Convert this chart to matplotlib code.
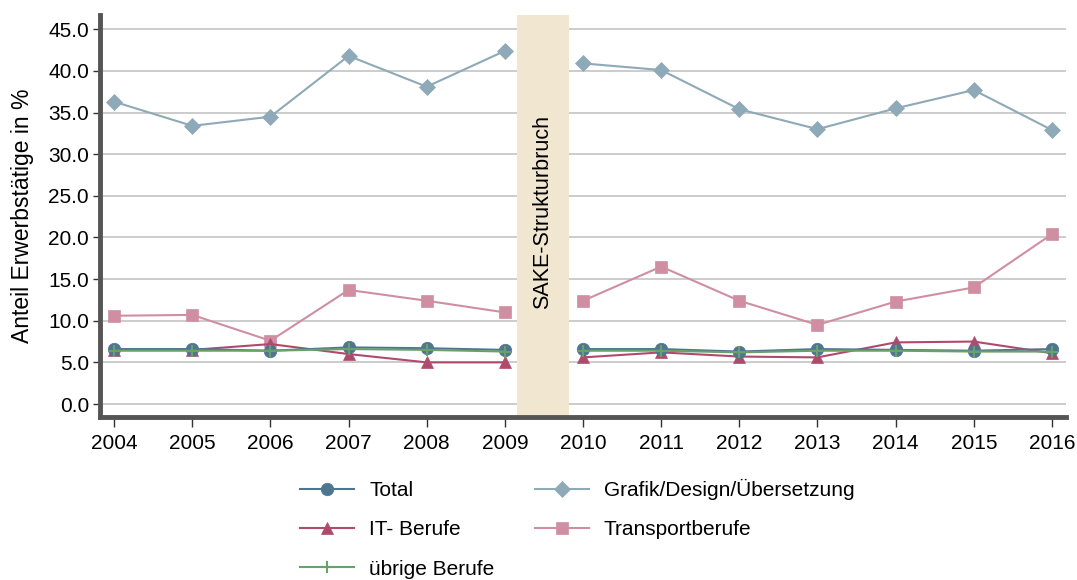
import numpy as np
import matplotlib.pyplot as plt

plt.rcParams['font.family'] = ['Liberation Sans', 'DejaVu Sans']

years = np.arange(2004, 2017)
total = [6.6, 6.6, 6.4, 6.8, 6.7, 6.5, 6.6, 6.6, 6.3, 6.6, 6.5, 6.4, 6.6]
grafik = [36.3, 33.4, 34.5, 41.8, 38.1, 42.4, 40.9, 40.1, 35.4, 33.0, 35.5, 37.7, 32.9]
it = [6.5, 6.5, 7.2, 6.0, 5.0, 5.0, 5.6, 6.2, 5.7, 5.6, 7.4, 7.5, 6.1]
transport = [10.6, 10.7, 7.6, 13.7, 12.4, 11.0, 12.4, 16.5, 12.4, 9.5, 12.3, 14.0, 20.4]
uebrige = [6.4, 6.4, 6.4, 6.6, 6.5, 6.3, 6.4, 6.4, 6.2, 6.4, 6.4, 6.3, 6.3]

# series: label, values, colour, marker, marker size, z-order
series = [
    ('Grafik/Design/Übersetzung', grafik, '#8ea9b7', 'D', 8, 2),
    ('Transportberufe', transport, '#d08ea3', 's', 8, 2),
    ('IT- Berufe', it, '#b04a6c', '^', 9, 3),
    ('Total', total, '#4f7690', 'o', 9, 4),
    ('übrige Berufe', uebrige, '#6aa06a', '+', 9, 5),
]

fig = plt.figure(figsize=(10.77, 5.80), dpi=100)
ax = fig.add_axes([0.0929, 0.281, 0.8969, 0.693])

# break in the survey series between 2009 and 2010
ax.axvspan(2009.15, 2009.82, color='#f1e6d0', zorder=1, lw=0)
ax.text(2009.485, 23.0, 'SAKE-Strukturbruch', rotation=90, ha='center',
        va='center', fontsize=15.5, zorder=6)

handles = {}
for label, vals, col, mk, ms, z in series:
    vals = np.array(vals)
    for part in (years <= 2009, years >= 2010):
        line, = ax.plot(years[part], vals[part], color=col, marker=mk,
                        markersize=ms, lw=1.5, zorder=z,
                        markeredgewidth=1.5 if mk == '+' else 0.5,
                        markeredgecolor=col)
    handles[label] = line

ax.set_xlim(2003.82, 2016.18)
ax.set_ylim(-1.56, 46.7)
ax.set_xticks(years)
ax.set_yticks(np.arange(0, 46, 5))
ax.set_yticklabels([f'{v:.1f}' for v in np.arange(0, 46, 5)])
ax.grid(axis='y', color='#c8c8c8', lw=1.3)
ax.set_axisbelow(True)
ax.tick_params(axis='both', labelsize=15, direction='out', color='#333333')
ax.tick_params(axis='x', length=7, width=1, pad=5)
ax.tick_params(axis='y', length=5, width=1, pad=3)
for s in ['top', 'right']:
    ax.spines[s].set_visible(False)
for s in ['left', 'bottom']:
    ax.spines[s].set_linewidth(3.5)
    ax.spines[s].set_color('#555555')
ax.set_ylabel('Anteil Erwerbstätige in %', fontsize=16.5, labelpad=10)

order = ['Total', 'IT- Berufe', 'übrige Berufe',
         'Grafik/Design/Übersetzung', 'Transportberufe']
leg = fig.legend([handles[k] for k in order], order, loc='lower center',
                 bbox_to_anchor=(0.536, -0.03), ncol=2, frameon=False,
                 fontsize=15, handlelength=2.6, handletextpad=0.7,
                 columnspacing=1.95, labelspacing=0.97)

fig.savefig('out.png', dpi=100)
